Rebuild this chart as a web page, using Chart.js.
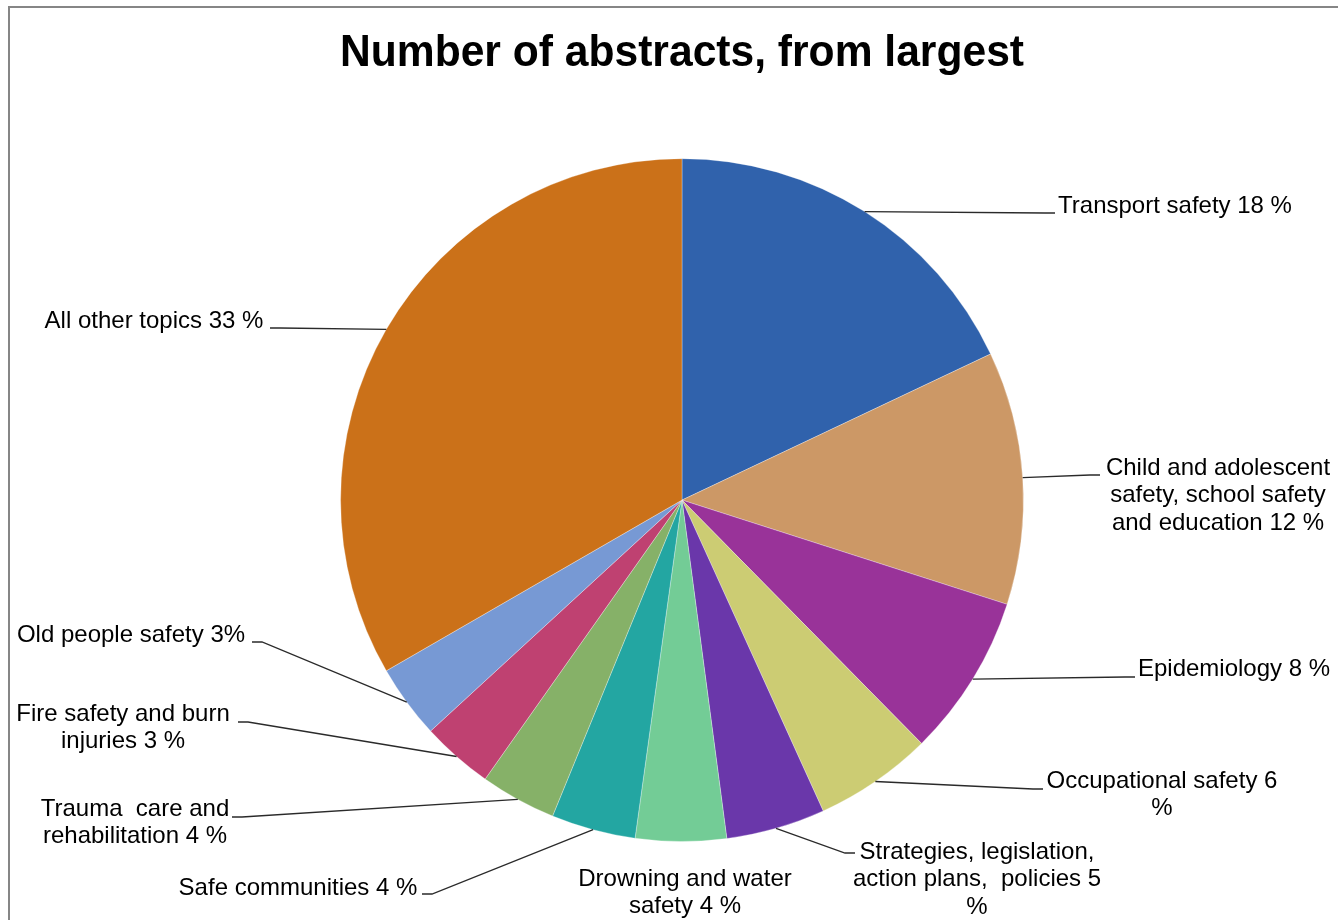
<!DOCTYPE html>
<html>
<head>
<meta charset="utf-8">
<script src="https://cdn.jsdelivr.net/npm/chart.js@4.4.0/dist/chart.umd.min.js"></script>
<style>
  html, body { margin: 0; padding: 0; background: #fff; }
  #chart { display: block; }
</style>
</head>
<body>
<canvas id="chart" width="1338" height="920"></canvas>
<script>
// categories, in the order of the slices (clockwise from the top)
const categories = [
  'Transport safety',
  'Child and adolescent safety, school safety and education',
  'Epidemiology',
  'Occupational safety',
  'Strategies, legislation, action plans, policies',
  'Drowning and water safety',
  'Safe communities',
  'Trauma care and rehabilitation',
  'Fire safety and burn injuries',
  'Old people safety',
  'All other topics'
];

// share of abstracts (%)
const shares = [18.0, 12.0, 7.7, 5.6, 4.7, 4.3, 4.0, 3.6, 3.4, 3.5, 33.4];

// data label text, line by line, as printed on the chart
const labelLines = [
  ['Transport safety 18 %'],
  ['Child and adolescent', 'safety, school safety', 'and education 12 %'],
  ['Epidemiology 8 %'],
  ['Occupational safety 6', '%'],
  ['Strategies, legislation,', 'action plans,  policies 5', '%'],
  ['Drowning and water', 'safety 4 %'],
  ['Safe communities 4 %'],
  ['Trauma  care and', 'rehabilitation 4 %'],
  ['Fire safety and burn', 'injuries 3 %'],
  ['Old people safety 3%'],
  ['All other topics 33 %']
];

const sliceColors = [
  '#3062AC', '#CC9866', '#993399', '#CCCC73', '#6A37AA', '#73CC96',
  '#23A6A2', '#86B168', '#BF4171', '#7799D4', '#CB7119'
];

// where each label sits: text centre x, first line y, leader end (null = no leader)
const labelPlaces = [
  { x: 1175, y: 206, end: [1055, 213] },
  { x: 1218, y: 468, end: [1100, 475] },
  { x: 1234, y: 669, end: [1135, 677] },
  { x: 1162, y: 781, end: [1043, 789] },
  { x: 977,  y: 852, end: [855, 853] },
  { x: 685,  y: 879, end: null },
  { x: 298,  y: 888, end: [422, 894] },
  { x: 135,  y: 809, end: [232, 817] },
  { x: 123,  y: 714, end: [238, 722] },
  { x: 131,  y: 635, end: [252, 642] },
  { x: 154,  y: 321, end: [270, 328] }
];

const FONT = '"Liberation Sans", Arial, sans-serif';

const frame = {
  id: 'frame',
  beforeDraw(chart) {
    const c = chart.ctx;
    c.save();
    c.fillStyle = '#fff';
    c.fillRect(0, 0, chart.width, chart.height);
    c.strokeStyle = '#868686';
    c.lineWidth = 2;
    c.beginPath();
    c.moveTo(9, chart.height + 5);
    c.lineTo(9, 7);
    c.lineTo(chart.width + 5, 7);
    c.stroke();
    c.restore();
  }
};

const pieLabels = {
  id: 'pieLabels',
  afterDatasetsDraw(chart) {
    const c = chart.ctx;
    const arcs = chart.getDatasetMeta(0).data;
    c.save();
    arcs.forEach((arc, i) => {
      const p = arc.getProps(['x', 'y', 'startAngle', 'endAngle', 'outerRadius'], true);
      const mid = (p.startAngle + p.endAngle) / 2;
      const ax = p.x + Math.cos(mid) * p.outerRadius;
      const ay = p.y + Math.sin(mid) * p.outerRadius;
      const place = labelPlaces[i];
      if (place.end) {
        const [ex, ey] = place.end;
        const dir = ex < ax ? 1 : -1;
        c.strokeStyle = '#2a2a2a';
        c.lineWidth = 1.3;
        c.beginPath();
        c.moveTo(ax, ay);
        c.lineTo(ex + dir * 10, ey);
        c.lineTo(ex, ey);
        c.stroke();
      }
      c.fillStyle = '#000';
      c.font = '24px ' + FONT;
      c.textAlign = 'center';
      c.textBaseline = 'middle';
      labelLines[i].forEach((line, k) => {
        c.fillText(line, place.x, place.y + k * 27.5);
      });
    });
    c.restore();
  }
};

new Chart(document.getElementById('chart'), {
  type: 'pie',
  data: {
    labels: categories,
    datasets: [{
      data: shares,
      backgroundColor: sliceColors,
      borderColor: 'rgba(255,255,255,0.3)',
      borderWidth: 1
    }]
  },
  options: {
    responsive: false,
    animation: false,
    layout: { padding: { left: 340, right: 314, top: 0, bottom: 78 } },
    plugins: {
      legend: { display: false },
      tooltip: { enabled: false },
      title: {
        display: true,
        text: 'Number of abstracts, from largest',
        color: '#000',
        font: { family: FONT, size: 44.7, weight: 'bold' },
        padding: { top: 26.5, bottom: 78 }
      }
    }
  },
  plugins: [frame, pieLabels]
});
</script>
</body>
</html>
